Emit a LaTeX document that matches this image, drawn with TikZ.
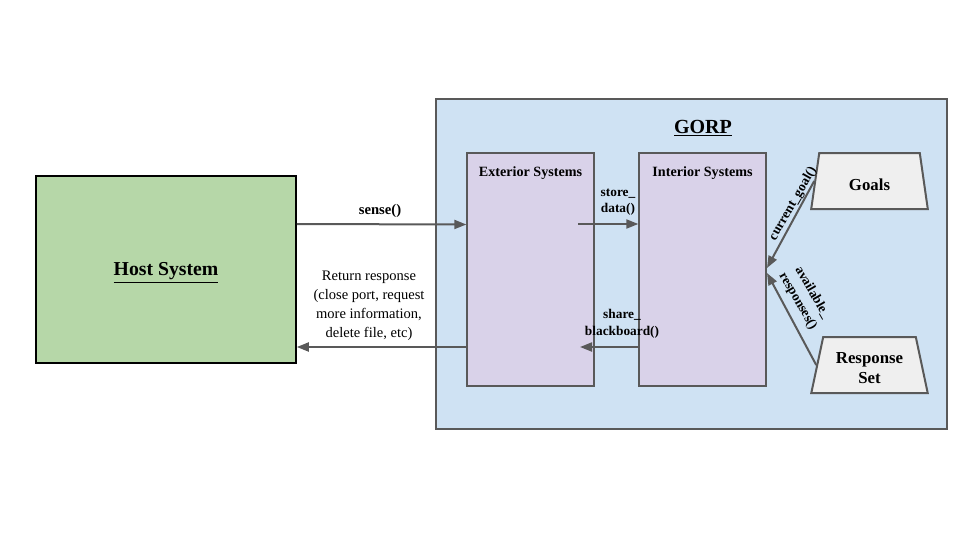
\documentclass[tikz,border=0pt]{standalone}
\usepackage{fontspec}
\setmainfont{Liberation Serif}
\usetikzlibrary{arrows.meta,shapes.geometric}
\definecolor{hostgreen}{HTML}{B6D7A8}
\definecolor{gorpblue}{HTML}{CFE2F3}
\definecolor{syspurple}{HTML}{D9D2E9}
\definecolor{setgray}{HTML}{EFEFEF}
\definecolor{linegray}{HTML}{595959}
\newcommand{\lowered}[1]{\raisebox{-2.5pt}[\height][\depth]{#1}}
\tikzset{
  box/.style={draw=linegray, line width=1pt, inner sep=0pt},
  sysbox/.style={box, fill=syspurple, minimum width=95.25pt, minimum height=174.75pt},
  trap/.style={draw=linegray, line width=1.5pt, fill=setgray, trapezium, trapezium stretches=true,
     trapezium angle=74.5, minimum width=87.75pt, minimum height=42pt, inner sep=0pt,
     font=\fontsize{12.6pt}{15pt}\selectfont\bfseries, align=center},
  arr/.style={draw=linegray, line width=1.5pt, -{Triangle[length=9pt,width=6.75pt]}},
  lbl/.style={font=\fontsize{10pt}{12.5pt}\selectfont\bfseries, align=center, inner sep=0pt},
  ttl/.style={font=\fontsize{10.6pt}{12.5pt}\selectfont\bfseries, inner sep=0pt}
}
\begin{document}
\begin{tikzpicture}[x=0.75pt,y=-0.75pt]
\useasboundingbox (0,0) rectangle (960,540);
% Host system
\node[draw=black, line width=1.2pt, fill=hostgreen, minimum width=195pt, minimum height=140.25pt,
  font=\fontsize{14.8pt}{17pt}\selectfont\bfseries] (host) at (166,269.5) {\lowered{\underline{Host System}}};
% GORP frame
\node[box, fill=gorpblue, minimum width=383.25pt, minimum height=247.5pt] (gorp) at (691.5,264) {};
\node[font=\fontsize{15pt}{18pt}\selectfont\bfseries, inner sep=0pt] (gorpt) at (703,128) {\underline{GORP}};
% systems
\node[sysbox] (ext) at (530.5,269.5) {};
\node[ttl] (extt) at (530.5,173) {Exterior Systems};
\node[sysbox] (int) at (702.5,269.5) {};
\node[ttl] (intt) at (702.5,173) {Interior Systems};
% goals & response set
\node[trap] (goals) at (869.5,181) {\lowered{Goals}};
\node[trap] (resp) at (869.5,365) {\lowered{Response}\\\lowered{Set}};
% arrows
\draw[arr] (host.east |- 0,224) -- (ext.west |- 0,224.5);
\node[lbl, font=\fontsize{11pt}{12.5pt}\selectfont\bfseries] (sense) at (380,211) {sense()};
\draw[arr] (ext.west |- 0,347) -- (host.east |- 0,347);
\node[lbl, font=\fontsize{10.9pt}{14.3pt}\selectfont] (ret) at (369,306) {Return response\\(close port, request\\more information,\\delete file, etc)};
\draw[arr] (578,224) -- (int.west |- 0,224);
\node[lbl] (store) at (618,202) {store\_\\data()};
\draw[arr] (int.west |- 0,347) -- (580,347);
\node[lbl] (share) at (622,324) {share\_\\blackboard()};
\coordinate (tipg) at (767,268);
\coordinate (tipr) at (767,273);
\draw[arr] (goals.west) -- (tipg);
\draw[arr] (resp.west) -- (tipr);
\node[lbl, rotate=60] (cg) at (793,204) {current\_goal()};
\node[lbl, rotate=-60] (ar) at (805,297) {available\_\\responses()};
\end{tikzpicture}
\end{document}
